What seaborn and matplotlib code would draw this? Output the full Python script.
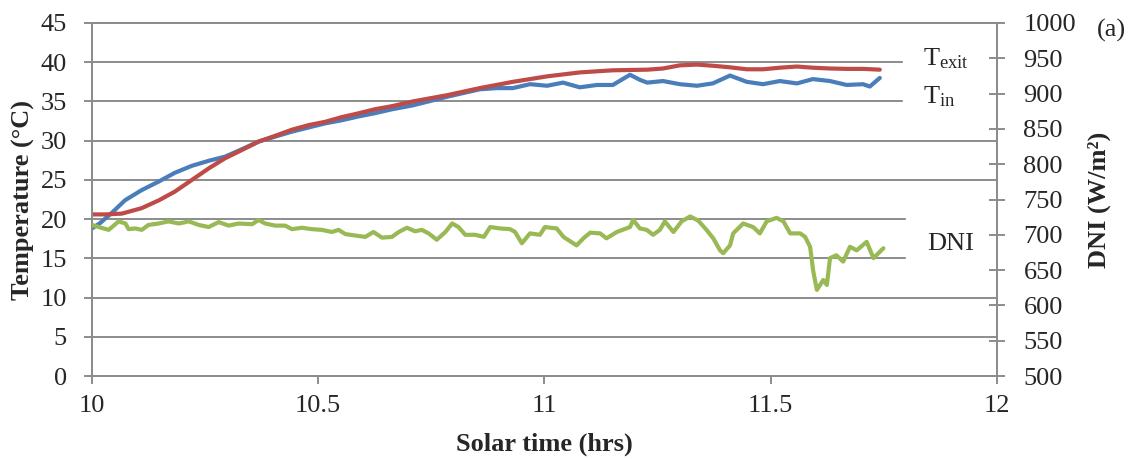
import matplotlib
matplotlib.use("Agg")
import matplotlib.pyplot as plt
from matplotlib.ticker import FormatStrFormatter
import pandas as pd
import seaborn as sns

# Collector exit temperature (°C) against solar time (hrs)
t_exit_hrs = [10.000, 10.029, 10.066, 10.110, 10.148, 10.183, 10.221, 10.259, 10.294, 10.331,
              10.369, 10.404, 10.442, 10.480, 10.515, 10.552, 10.590, 10.625, 10.663, 10.709,
              10.785, 10.857, 10.930, 11.006, 11.078, 11.151, 11.227, 11.262, 11.299, 11.337,
              11.372, 11.410, 11.447, 11.483, 11.520, 11.558, 11.593, 11.631, 11.668, 11.704,
              11.741]
t_exit = [20.6, 20.6, 20.7, 21.4, 22.4, 23.5, 25.0, 26.5, 27.75, 28.8,
          29.9, 30.6, 31.4, 32.0, 32.4, 33.0, 33.5, 34.0, 34.4, 35.0,
          35.8, 36.7, 37.5, 38.2, 38.7, 38.97, 39.05, 39.2, 39.6, 39.7,
          39.55, 39.35, 39.1, 39.1, 39.3, 39.45, 39.3, 39.2, 39.15, 39.15,
          39.05]

# Collector inlet temperature (°C)
t_in_hrs = [10.000, 10.018, 10.044, 10.073, 10.110, 10.148, 10.183, 10.221, 10.259, 10.294,
            10.331, 10.369, 10.404, 10.442, 10.480, 10.515, 10.552, 10.590, 10.625, 10.663,
            10.709, 10.785, 10.857, 10.895, 10.930, 10.968, 11.006, 11.041, 11.078, 11.116,
            11.151, 11.189, 11.211, 11.227, 11.262, 11.299, 11.337, 11.372, 11.410, 11.447,
            11.483, 11.520, 11.558, 11.593, 11.631, 11.668, 11.704, 11.719, 11.741]
t_in = [18.8, 19.5, 20.8, 22.4, 23.7, 24.8, 25.9, 26.8, 27.45, 27.96,
        28.9, 29.9, 30.5, 31.15, 31.7, 32.2, 32.6, 33.1, 33.5, 34.0,
        34.5, 35.6, 36.55, 36.7, 36.7, 37.2, 37.0, 37.4, 36.8, 37.1,
        37.1, 38.4, 37.75, 37.4, 37.6, 37.2, 37.0, 37.3, 38.3, 37.5,
        37.2, 37.6, 37.3, 37.85, 37.6, 37.1, 37.2, 36.9, 38.0]

# Direct normal irradiance (W/m²)
dni_hrs = [10.000, 10.015, 10.037, 10.059, 10.074, 10.081, 10.096, 10.110, 10.125, 10.147,
           10.169, 10.192, 10.214, 10.236, 10.258, 10.280, 10.302, 10.324, 10.354, 10.368,
           10.383, 10.405, 10.427, 10.442, 10.464, 10.486, 10.508, 10.530, 10.545, 10.560,
           10.582, 10.604, 10.622, 10.641, 10.663, 10.678, 10.696, 10.714, 10.729, 10.744,
           10.762, 10.781, 10.796, 10.810, 10.825, 10.847, 10.866, 10.880, 10.902, 10.924,
           10.935, 10.950, 10.968, 10.990, 11.001, 11.027, 11.042, 11.071, 11.086, 11.101,
           11.123, 11.137, 11.160, 11.189, 11.196, 11.211, 11.226, 11.240, 11.255, 11.266,
           11.285, 11.303, 11.322, 11.340, 11.358, 11.373, 11.388, 11.395, 11.410, 11.417,
           11.439, 11.461, 11.476, 11.491, 11.513, 11.528, 11.543, 11.565, 11.576, 11.587,
           11.594, 11.602, 11.616, 11.624, 11.631, 11.645, 11.660, 11.675, 11.690, 11.712,
           11.727, 11.738, 11.749]
dni = [714, 711, 707, 719, 716, 708, 709, 707, 714, 716,
       719, 716, 719, 714, 711, 718, 713, 716, 715, 721,
       716, 713, 713, 708, 710, 708, 707, 704, 707, 701,
       699, 697, 704, 696, 697, 704, 710, 705, 707, 702,
       693, 704, 716, 711, 700, 700, 697, 711, 709, 708,
       704, 688, 702, 700, 711, 709, 697, 685, 695, 703,
       702, 695, 704, 711, 721, 709, 707, 700, 707, 719,
       704, 719, 726, 720, 707, 695, 678, 674, 685, 702,
       716, 711, 702, 719, 724, 719, 702, 702, 697, 683,
       648, 622, 636, 629, 667, 671, 662, 683, 678, 690,
       667, 674, 681]

x_ticks = [10, 10.5, 11, 11.5, 12]
temp_ticks = list(range(0, 50, 5))
dni_ticks = list(range(500, 1050, 50))

BLUE = "#4a7ebb"
RED = "#be4b48"
GREEN = "#98b954"
GRID = "#8c8c8c"
FS = 19

sns.set_style("white")
plt.rcParams["font.family"] = ["Liberation Serif", "DejaVu Serif"]
plt.rcParams["mathtext.fontset"] = "custom"
plt.rcParams["mathtext.rm"] = "Liberation Serif"
plt.rcParams["mathtext.it"] = "Liberation Serif:italic"

df_exit = pd.DataFrame({"hrs": t_exit_hrs, "T": t_exit})
df_in = pd.DataFrame({"hrs": t_in_hrs, "T": t_in})
df_dni = pd.DataFrame({"hrs": dni_hrs, "DNI": dni})

fig = plt.figure(figsize=(11.38, 4.59), dpi=100)
ax = fig.add_axes([0.0808, 0.1808, 0.7953, 0.7691])
ax2 = ax.twinx()

sns.lineplot(data=df_in, x="hrs", y="T", ax=ax, color=BLUE, lw=3.0,
             sort=False, estimator=None, legend=False, zorder=3)
sns.lineplot(data=df_exit, x="hrs", y="T", ax=ax, color=RED, lw=3.0,
             sort=False, estimator=None, legend=False, zorder=4)
sns.lineplot(data=df_dni, x="hrs", y="DNI", ax=ax2, color=GREEN, lw=3.0,
             sort=False, estimator=None, legend=False, zorder=3)

ax.set_xlim(10, 12)
ax.set_ylim(0, 45)
ax2.set_ylim(500, 1000)
ax.set_xticks(x_ticks)
ax.xaxis.set_major_formatter(FormatStrFormatter("%g"))
ax.set_yticks(temp_ticks)
ax2.set_yticks(dni_ticks)

ax.set_axisbelow(True)
ax.yaxis.grid(True, color=GRID, lw=1.4)
ax.xaxis.grid(False)
ax2.grid(False)

for a in (ax, ax2):
    for s in a.spines.values():
        s.set_color(GRID)
        s.set_linewidth(1.4)

ax.tick_params(axis="y", direction="out", length=6, width=1.4, color=GRID,
               pad=12, labelsize=FS, left=True)
ax.tick_params(axis="x", direction="out", length=6, width=1.4, color=GRID,
               pad=8, labelsize=FS, bottom=True)
ax2.tick_params(axis="y", direction="inout", length=12, width=1.4, color=GRID,
                pad=13, labelsize=FS, right=True)

# white backing behind the curve labels on the right
ax.axhspan(31.5, 43.5, xmin=0.896, xmax=1.0, color="white", zorder=1)
ax.axhspan(12.5, 22.5, xmin=0.900, xmax=1.0, color="white", zorder=1)

ax.text(11.836, 39.65, r"T$_{\mathregular{exit}}$", fontsize=FS, ha="left",
        va="baseline", zorder=5)
ax.text(11.836, 34.8, r"T$_{\mathregular{in}}$", fontsize=FS, ha="left",
        va="baseline", zorder=5)
ax.text(11.845, 16.06, "DNI", fontsize=FS, ha="left", va="baseline", zorder=5)

ax.set_xlabel("Solar time (hrs)", fontsize=FS, fontweight="bold")
ax.set_ylabel("Temperature (°C)", fontsize=FS, fontweight="bold")
ax2.set_ylabel("DNI (W/m²)", fontsize=FS, fontweight="bold")
ax.xaxis.set_label_coords(0.5, -0.16)
ax.yaxis.set_label_coords(-0.063, 0.5)
ax2.yaxis.set_label_coords(1.1006, 0.5)

fig.text(1097 / 1138, 1 - 30 / 459, "(a)", fontsize=FS, ha="left", va="center")

fig.savefig("out.png", dpi=100)
